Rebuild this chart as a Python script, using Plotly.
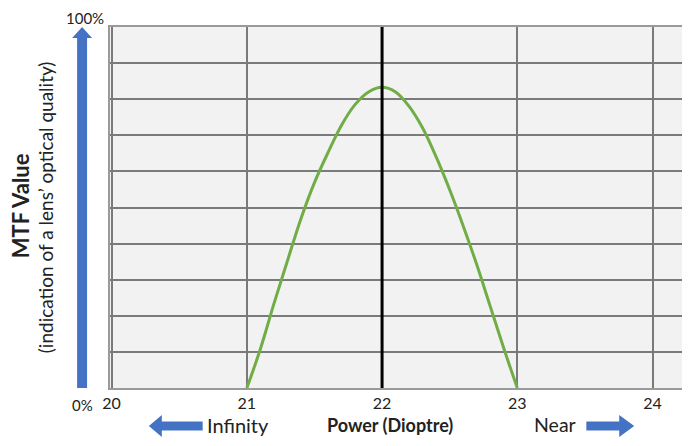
import plotly.graph_objects as go

# Data
power = [21.0, 21.1, 21.2, 21.3, 21.4, 21.5, 21.6, 21.7, 21.8, 21.9, 22.0,
         22.1, 22.2, 22.3, 22.4, 22.5, 22.6, 22.7, 22.8, 22.9, 23.0]
mtf = [0, 10.8, 23.3, 35.2, 46.9, 56.9, 65.2, 72.8, 78.5, 82.0, 83.3,
       82.0, 78.0, 72.0, 64.0, 54.9, 44.9, 34.2, 22.6, 11.0, 0]
peak_power = 22
x_ticks = [20, 21, 22, 23, 24]
x_tick_labels = ["20", "21", "22", "23", "24"]

OFF = 8  # page body margin offset in the screenshot
W, H = 690 - OFF, 446 - OFF
ML, MR, MT, MB = 110 - OFF, 1, 27 - OFF, 58
PW, PH = W - ML - MR, H - MT - MB


def px(x):
    # screen x -> paper
    return (x - OFF - ML) / PW


def py(y):
    # screen y -> paper
    return (H - MB - (y - OFF)) / PH


def path(points):
    return "M " + " L ".join(f"{px(a):.5f},{py(b):.5f}" for a, b in points) + " Z"


BLUE = "#4472c4"
FONT = "Lato"

fig = go.Figure()
fig.add_trace(go.Scatter(
    x=power, y=mtf, mode="lines",
    line=dict(color="#70ad47", width=3, shape="spline", smoothing=1.0),
    hoverinfo="skip", showlegend=False,
))

fig.add_vline(x=peak_power, line=dict(color="black", width=3), layer="above")

shapes = []
# vertical arrow
shapes.append(dict(type="path", xref="paper", yref="paper",
                   path=path([(77, 388), (87, 388), (87, 38), (92, 38), (82, 27), (72, 38), (77, 38)]),
                   fillcolor=BLUE, line=dict(width=0)))
# left arrow
shapes.append(dict(type="path", xref="paper", yref="paper",
                   path=path([(203, 421.5), (203, 430.5), (162, 430.5), (162, 437), (149, 426), (162, 415), (162, 421.5)]),
                   fillcolor=BLUE, line=dict(width=0)))
# right arrow
shapes.append(dict(type="path", xref="paper", yref="paper",
                   path=path([(588, 421.5), (588, 430.5), (621, 430.5), (621, 437), (636, 426), (621, 415), (621, 421.5)]),
                   fillcolor=BLUE, line=dict(width=0)))
for s in shapes:
    fig.add_shape(**s)

ann = [
    dict(text="100%", x=px(85), y=py(8), size=15, yanchor="top"),
    dict(text="0%", x=px(82), y=py(405)),
    dict(text="Infinity", x=px(238.5), y=py(425), size=20),
    dict(text="Near", x=px(557), y=py(425), size=19.5),
    dict(text="<b>Power (Dioptre)</b>", x=px(391), y=py(425), size=18),
    dict(text="<b>MTF Value</b>", x=px(20), y=py(206), size=22, angle=-90),
    dict(text="(indication of a lens’ optical quality)", x=px(45), y=py(207), size=19, angle=-90),
]
for a in ann:
    fig.add_annotation(text=a["text"], x=a["x"], y=a["y"], xref="paper", yref="paper",
                       showarrow=False, xanchor="center", yanchor=a.get("yanchor", "middle"),
                       textangle=a.get("angle", 0), borderpad=0,
                       font=dict(family=FONT, size=a.get("size", 15), color="#222222"))

fig.update_layout(
    width=W, height=H,
    margin=dict(l=ML, r=MR, t=MT, b=MB),
    paper_bgcolor="white",
    plot_bgcolor="#f2f2f2",
    showlegend=False,
    font=dict(family=FONT, size=15, color="#222222"),
)
fig.update_xaxes(
    range=[19.988, 24.255], tickvals=x_ticks, ticktext=x_tick_labels,
    showgrid=True, gridcolor="#7a7a7a", gridwidth=1.5,
    showline=True, linecolor="#9a9a9a", linewidth=1.5, mirror=True,
    zeroline=False, ticks="", tickfont=dict(size=16, color="#222222"),
)
fig.update_yaxes(
    range=[0, 100], dtick=10, showticklabels=False,
    showgrid=True, gridcolor="#7a7a7a", gridwidth=1.5,
    showline=True, linecolor="#9a9a9a", linewidth=1.5, mirror=True,
    zeroline=False, ticks="",
)

fig.write_html("out.html")
